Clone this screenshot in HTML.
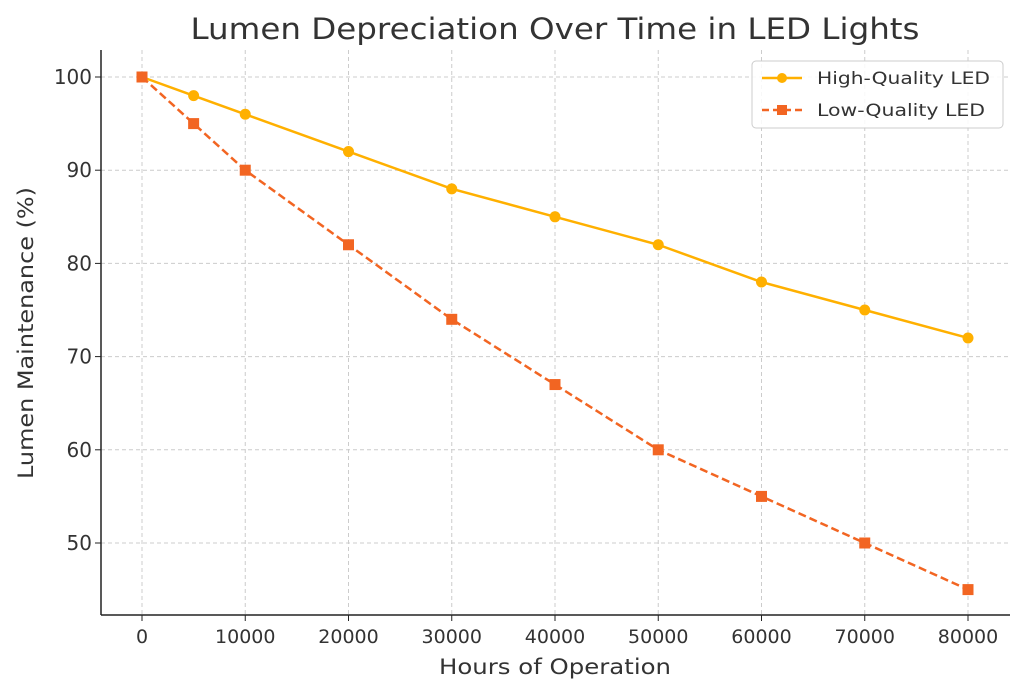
<!DOCTYPE html>
<html><head><meta charset="utf-8"><style>
body{margin:0;background:#fff;}
svg{display:block;font-family:"DejaVu Sans","Liberation Sans",sans-serif;}
</style></head><body>
<svg id="chart" width="1024" height="694" viewBox="0 0 1024 694">
<text x="555" y="39" font-size="29" fill="#333" text-anchor="middle" textLength="729" lengthAdjust="spacingAndGlyphs">Lumen Depreciation Over Time in LED Lights</text>
<g id="grid"></g>
<g id="axes"></g>
<g id="series"></g>
<text x="555" y="674" font-size="21" fill="#333" text-anchor="middle" textLength="232" lengthAdjust="spacingAndGlyphs">Hours of Operation</text>
<text transform="translate(33,333) rotate(-90)" font-size="21" fill="#333" text-anchor="middle" textLength="292" lengthAdjust="spacingAndGlyphs">Lumen Maintenance (%)</text>
<g>
<rect x="752" y="61" width="251" height="67" rx="4" fill="#fff" fill-opacity="0.85" stroke="#ccc"/>
<line x1="762" y1="78" x2="802" y2="78" stroke="#FFB000" stroke-width="2.5"/>
<circle cx="782" cy="78" r="5" fill="#FFB000"/>
<text x="817" y="84" font-size="17" fill="#333" textLength="173" lengthAdjust="spacingAndGlyphs">High-Quality LED</text>
<line x1="762" y1="110" x2="802" y2="110" stroke="#F26522" stroke-width="2.5" stroke-dasharray="7,4"/>
<rect x="777" y="105" width="10" height="10" fill="#F26522"/>
<text x="817" y="116" font-size="17" fill="#333" textLength="168" lengthAdjust="spacingAndGlyphs">Low-Quality LED</text>
</g>
</svg>
<script>
const hours=[0,5000,10000,20000,30000,40000,50000,60000,70000,80000];
const highQuality=[100,98,96,92,88,85,82,78,75,72];
const lowQuality=[100,95,90,82,74,67,60,55,50,45];
const xTicks=[0,10000,20000,30000,40000,50000,60000,70000,80000];
const yTicks=[50,60,70,80,90,100];
const NS="http://www.w3.org/2000/svg";
const L=101,R=1010,T=50,B=615;
function xs(v){return 142+v*(968-142)/80000;}
function ys(v){return 543-(v-50)*(543-77)/50;}
function mk(tag,attrs,parent){const e=document.createElementNS(NS,tag);for(const k in attrs)e.setAttribute(k,attrs[k]);parent.appendChild(e);return e;}
const grid=document.getElementById('grid'),axes=document.getElementById('axes'),ser=document.getElementById('series');
xTicks.forEach(t=>{const x=xs(t);
 const g=mk('line',{x1:x,x2:x,y1:T,y2:B,stroke:'#ccc','stroke-dasharray':'4,3'},grid);
 
 
 mk('line',{x1:x,x2:x,y1:B,y2:B+6,stroke:'#222'},axes);
 const tx=mk('text',{x:x,y:B+28,'font-size':19,fill:'#333','text-anchor':'middle'},axes);tx.textContent=t;
 
 
});
yTicks.forEach(t=>{const y=ys(t);
 const g=mk('line',{x1:L,x2:R,y1:y,y2:y,stroke:'#ccc','stroke-dasharray':'4,3'},grid);
 
 
 mk('line',{x1:L-6,x2:L,y1:y,y2:y,stroke:'#222'},axes);
 const tx=mk('text',{x:L-9,y:y+7,'font-size':20,fill:'#333','text-anchor':'end'},axes);tx.textContent=t;
 
 
});
mk('line',{x1:L,x2:L,y1:T,y2:B,stroke:'#222','stroke-width':1.5},axes);
mk('line',{x1:L,x2:R,y1:B,y2:B,stroke:'#222','stroke-width':1.5},axes);
function pts(vals){return vals.map((v,i)=>xs(hours[i])+','+ys(v)).join(' ');}
const pl=mk('polyline',{points:pts(lowQuality),fill:'none',stroke:'#F26522','stroke-width':2.5,'stroke-dasharray':'8,4'},ser);


const ph=mk('polyline',{points:pts(highQuality),fill:'none',stroke:'#FFB000','stroke-width':2.5},ser);


highQuality.forEach((v,i)=>{const c=mk('circle',{cx:xs(hours[i]),cy:ys(v),r:5.5,fill:'#FFB000'},ser);
 
 });
lowQuality.forEach((v,i)=>{const r=mk('rect',{x:xs(hours[i])-5.5,y:ys(v)-5.5,width:11,height:11,fill:'#F26522'},ser);
 
 });
</script>
</body></html>
